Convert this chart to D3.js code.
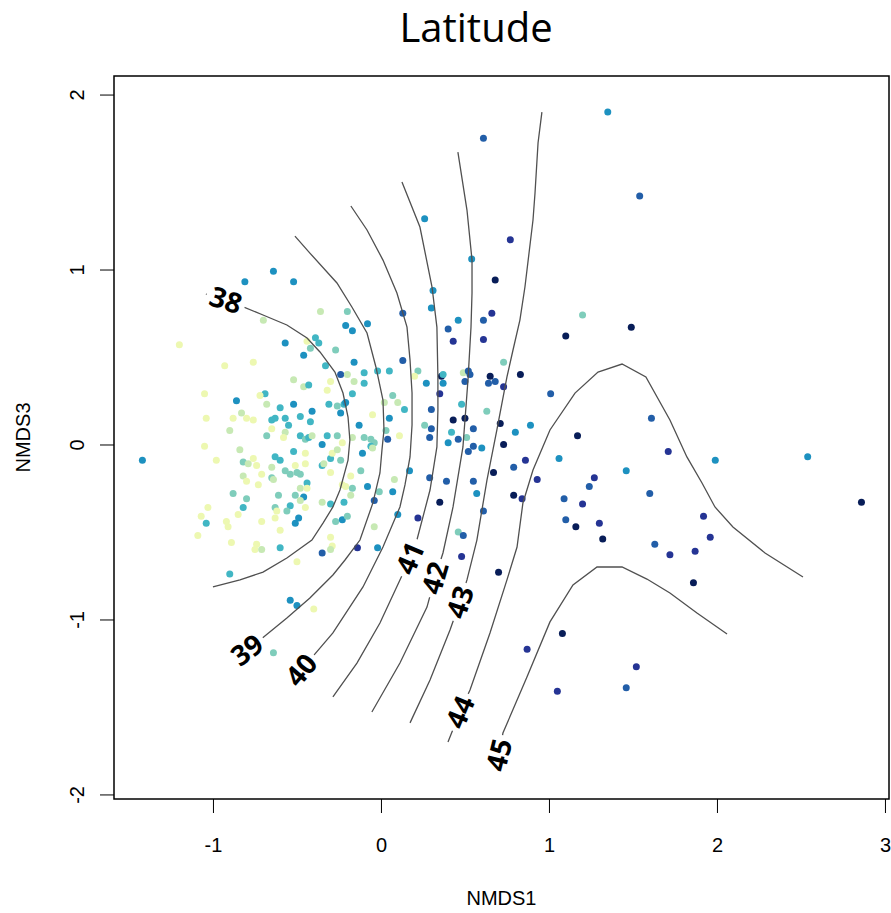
<!DOCTYPE html>
<html>
<head>
<meta charset="utf-8">
<script src="https://cdn.jsdelivr.net/npm/d3@7"></script>
<style>
  body { margin: 0; background: #fff; }
  svg text { font-family: "Liberation Sans", Arial, sans-serif; fill: #000; }
</style>
</head>
<body>
<svg id="chart" width="891" height="913"></svg>
<script>
// axis ticks
const xTicks = [-1, 0, 1, 2, 3];
const yTicks = [-2, -1, 0, 1, 2];

// site scores: [NMDS1, NMDS3, latitude]
const sites = [
  [1.35,1.90,42],[1.54,1.42,43],[0.61,1.75,43],[0.26,1.29,42],[0.54,1.06,42],[0.77,1.17,44],[0.68,0.94,45],
  [-0.64,0.99,42],[-0.81,0.93,42],[-0.52,0.93,42],[0.31,0.88,42],[0.30,0.78,42],
  [-0.70,0.71,39],[-0.36,0.76,39],[-0.20,0.76,40],[0.13,0.75,43],[0.46,0.71,42],[0.40,0.66,43],[0.43,0.59,44],[0.61,0.60,44],[0.61,0.71,43],[0.66,0.75,44],
  [1.20,0.74,40],[1.10,0.62,45],[1.49,0.67,45],
  [-1.20,0.57,38],[-0.57,0.58,42],[-0.44,0.59,38],[-0.39,0.61,41],[-0.37,0.58,41],[-0.42,0.55,40],[-0.21,0.68,42],[-0.17,0.65,42],[-0.08,0.69,42],[-0.46,0.51,42],[-0.27,0.54,40],
  [-0.93,0.45,38],[-0.76,0.47,38],[-0.33,0.45,41],[-0.24,0.40,43],[-0.20,0.40,39],[-0.16,0.47,42],[-0.10,0.41,41],[-0.02,0.42,41],[0.05,0.42,41],[0.13,0.48,43],[0.22,0.42,40],
  [-0.52,0.37,39],[-0.46,0.33,39],[-0.43,0.34,41],[-0.30,0.36,38],[-0.32,0.31,38],[-0.16,0.36,39],[-0.10,0.35,41],[0.20,0.39,38],[0.27,0.35,42],[0.36,0.39,45],[0.37,0.40,41],[0.37,0.35,42],[0.35,0.29,44],
  [0.49,0.41,39],[0.52,0.42,43],[0.53,0.40,43],[0.50,0.36,43],[0.73,0.47,40],[0.65,0.39,45],[0.68,0.36,43],[0.64,0.35,43],[0.73,0.33,44],[0.83,0.40,45],
  [-1.05,0.29,38],[-0.69,0.29,41],[-0.72,0.28,38],[-0.17,0.29,41],[-0.86,0.25,42],[-0.68,0.23,39],[-0.60,0.21,41],[-0.52,0.23,42],[-0.41,0.19,42],[-0.31,0.23,41],[-0.26,0.22,40],[-0.24,0.18,42],[-0.22,0.23,41],[-0.21,0.24,42],
  [0.02,0.24,39],[0.07,0.28,40],[0.10,0.24,39],[0.14,0.20,41],[0.30,0.20,43],[0.43,0.14,45],[0.50,0.15,45],[0.55,0.09,43],[0.48,0.23,41],[0.63,0.19,40],
  [-1.04,0.15,38],[-0.88,0.15,38],[-0.83,0.18,39],[-0.80,0.15,38],[-0.76,0.14,38],[-0.65,0.14,41],[-0.63,0.15,41],[-0.57,0.15,41],[-0.55,0.11,41],[-0.48,0.16,41],[-0.42,0.13,41],[-0.05,0.17,38],[-0.13,0.11,42],[0.05,0.15,42],
  [-0.90,0.08,39],[-0.65,0.09,38],[-0.57,0.07,39],[-0.58,0.04,38],[-0.68,0.05,40],[-0.48,0.05,41],[-0.45,0.03,40],[-0.43,0.04,41],[-0.41,0.05,39],[-0.32,0.05,41],[-0.26,0.05,40],[-0.23,0.01,38],[-0.17,0.04,39],[-0.10,0.04,40],[-0.06,0.03,40],[-0.04,0.01,40],[-0.06,-0.01,41],[-0.05,-0.02,39],
  [0.03,0.08,40],[0.04,0.03,43],[0.11,0.05,38],[0.26,0.11,40],[0.30,0.09,43],[0.29,0.04,43],[0.42,0.07,41],[0.40,0.01,42],[0.46,0.03,43],[0.51,0.04,40],[0.55,-0.01,43],[0.52,-0.04,43],[0.60,-0.02,42],
  [0.71,0.12,45],[0.80,0.07,42],[0.89,0.11,42],[0.73,0.00,45],[1.17,0.05,45],[1.01,0.29,43],[1.61,0.15,43],
  [0.67,-0.16,45],[0.79,-0.13,43],[0.86,-0.09,44],[0.93,-0.20,44],[0.79,-0.29,45],[0.84,-0.31,44],[0.61,-0.38,43],[1.06,-0.08,42],[1.46,-0.15,42],[1.71,-0.04,44],[1.99,-0.09,42],[2.54,-0.07,42],[2.86,-0.33,45],
  [1.27,-0.19,44],[1.24,-0.24,43],[1.09,-0.31,43],[1.20,-0.34,44],[1.60,-0.28,43],[1.10,-0.43,43],[1.16,-0.47,45],[1.30,-0.45,44],[1.32,-0.54,45],[1.63,-0.57,43],[1.72,-0.63,44],[1.87,-0.61,44],[1.92,-0.41,44],[1.96,-0.53,44],[1.86,-0.79,45],
  [0.70,-0.73,45],[1.08,-1.08,45],[0.87,-1.17,44],[1.52,-1.27,44],[1.46,-1.39,43],[1.05,-1.41,44],
  [0.17,-0.15,42],[0.29,-0.19,43],[0.39,-0.21,43],[0.35,-0.33,45],[0.55,-0.21,43],[0.57,-0.28,42],[0.22,-0.42,44],[0.08,-0.20,39],[0.07,-0.27,42],[-0.01,-0.27,40],[-0.04,-0.32,43],[-0.08,-0.24,42],
  [0.10,-0.40,42],[-0.04,-0.47,39],[-0.02,-0.59,42],[-0.14,-0.59,44],[0.46,-0.50,40],[0.49,-0.52,43],[0.48,-0.64,44],[-0.11,-0.05,42],[-0.12,-0.15,40],
  [-1.42,-0.09,42],[-1.05,-0.01,38],[-0.98,-0.09,38],[-0.84,-0.03,39],[-0.82,-0.10,40],[-0.79,-0.11,39],[-0.76,-0.08,38],[-0.74,-0.12,38],[-0.82,-0.18,39],[-0.80,-0.21,38],[-0.71,-0.17,38],[-0.73,-0.23,38],
  [-0.65,-0.13,39],[-0.65,-0.19,40],[-0.64,-0.20,39],[-0.63,-0.07,41],[-0.60,-0.09,41],[-0.57,-0.15,40],[-0.52,-0.04,41],[-0.45,-0.05,38],[-0.45,-0.11,38],[-0.51,-0.12,38],[-0.54,-0.17,40],[-0.50,-0.16,40],
  [-0.48,-0.17,40],[-0.44,-0.22,41],[-0.48,-0.25,39],[-0.44,-0.25,38],[-0.35,-0.12,41],[-0.34,-0.11,39],[-0.30,-0.16,38],[-0.30,-0.08,41],[-0.29,-0.05,38],[-0.24,-0.09,40],[-0.26,-0.03,39],[-0.35,0.00,42],
  [-0.18,-0.18,38],[-0.23,-0.23,38],[-0.21,-0.24,38],[-0.17,-0.25,40],[-0.18,-0.29,39],[-0.22,-0.33,41],[-0.27,-0.44,40],[-0.23,-0.43,42],[-0.20,-0.41,40],[-0.30,-0.34,41],[-0.35,-0.33,39],[-0.46,-0.30,42],
  [-0.54,-0.35,41],[-0.48,-0.32,39],[-0.45,-0.36,38],[-0.51,-0.29,40],[-0.56,-0.38,40],[-0.60,-0.49,38],[-0.61,-0.29,40],[-0.63,-0.36,40],[-0.62,-0.38,38],[-0.63,-0.42,38],[-0.80,-0.31,40],[-0.82,-0.36,41],
  [-0.88,-0.28,40],[-1.03,-0.36,38],[-1.07,-0.41,38],[-1.04,-0.45,41],[-1.09,-0.52,38],[-0.92,-0.44,38],[-0.91,-0.47,38],[-0.85,-0.40,38],[-0.89,-0.56,38],[-0.71,-0.44,38],[-0.74,-0.57,38],[-0.75,-0.60,38],
  [-0.71,-0.60,39],[-0.60,-0.59,41],[-0.51,-0.45,42],[-0.49,-0.42,42],[-0.30,-0.53,38],[-0.29,-0.58,38],[-0.30,-0.60,39],[-0.35,-0.62,43],[-0.50,-0.67,38],[-0.90,-0.74,41],[-0.54,-0.89,42],[-0.50,-0.92,42],
  [-0.40,-0.94,38],[-0.64,-1.19,40]
];

// fitted latitude surface: contour levels, their polylines and the vertex holding each label
const levels = [38, 39, 40, 41, 42, 43, 44, 45];
const contourLines = [
  [[-1.042,0.860],[-0.923,0.826],[-0.845,0.797],[-0.702,0.740],[-0.560,0.683],[-0.440,0.609],[-0.363,0.529],[-0.274,0.414],[-0.226,0.294],[-0.196,0.157],[-0.185,0.026],[-0.196,-0.089],[-0.244,-0.260],[-0.286,-0.357],[-0.345,-0.449],[-0.411,-0.546],[-0.560,-0.649],[-0.702,-0.729],[-0.839,-0.774],[-1.000,-0.814]],
  [[-0.512,1.191],[-0.423,1.094],[-0.262,0.923],[-0.173,0.786],[-0.083,0.637],[-0.030,0.443],[0.012,0.254],[0.018,0.083],[0.006,-0.031],[-0.006,-0.163],[-0.048,-0.334],[-0.125,-0.546],[-0.214,-0.660],[-0.286,-0.746],[-0.423,-0.877],[-0.560,-0.991],[-0.720,-1.117],[-0.798,-1.174],[-0.863,-1.220]],
  [[-0.179,1.363],[-0.083,1.226],[0.012,1.054],[0.095,0.866],[0.155,0.671],[0.173,0.483],[0.185,0.294],[0.185,0.111],[0.173,-0.071],[0.143,-0.231],[0.113,-0.357],[0.012,-0.586],[-0.107,-0.814],[-0.286,-1.077],[-0.423,-1.231],[-0.476,-1.289],[-0.524,-1.346]],
  [[0.125,1.500],[0.232,1.243],[0.304,0.900],[0.333,0.671],[0.339,0.386],[0.339,0.197],[0.333,-0.014],[0.292,-0.260],[0.214,-0.546],[0.173,-0.649],[0.113,-0.774],[-0.006,-1.020],[-0.143,-1.249],[-0.286,-1.443]],
  [[0.458,1.671],[0.512,1.340],[0.542,1.054],[0.542,0.866],[0.536,0.671],[0.518,0.369],[0.488,-0.014],[0.429,-0.357],[0.369,-0.620],[0.321,-0.763],[0.274,-0.929],[0.113,-1.249],[-0.054,-1.529]],
  [[0.958,1.900],[0.935,1.723],[0.917,1.437],[0.905,1.283],[0.857,0.900],[0.827,0.711],[0.786,0.540],[0.750,0.386],[0.690,0.083],[0.631,-0.203],[0.571,-0.546],[0.512,-0.774],[0.470,-0.900],[0.411,-1.060],[0.292,-1.346],[0.173,-1.591]],
  [[2.512,-0.757],[2.286,-0.620],[2.095,-0.471],[1.988,-0.357],[1.911,-0.220],[1.821,-0.071],[1.720,0.140],[1.577,0.386],[1.435,0.460],[1.292,0.414],[1.155,0.294],[1.006,0.083],[0.905,-0.146],[0.845,-0.334],[0.810,-0.586],[0.750,-0.774],[0.649,-1.077],[0.530,-1.403],[0.470,-1.529],[0.399,-1.700]],
  [[2.060,-1.083],[1.881,-0.963],[1.720,-0.849],[1.583,-0.769],[1.435,-0.700],[1.286,-0.700],[1.143,-0.803],[1.006,-1.014],[0.869,-1.329],[0.726,-1.649],[0.702,-1.774],[0.679,-1.831]]
];
const labelVertex = [1, 17, 15, 9, 9, 12, 18, 10];

const palette = ["#edf8b1", "#c7e9b4", "#7fcdbb", "#41b6c4", "#1d91c0", "#225ea8", "#253494", "#081d58"];

const svg = d3.select("#chart");
const box = { left: 114, right: 889, top: 76, bottom: 799 };

const x = d3.scaleLinear().domain([-1.589, 3.024]).range([box.left, box.right]);
const y = d3.scaleLinear().domain([-2.026, 2.106]).range([box.bottom, box.top]);
const color = d3.scaleQuantize().domain([37.5, 45.5]).range(palette);

// title
svg.append("text")
    .attr("x", 476).attr("y", 42)
    .attr("text-anchor", "middle")
    .style("font-family", "'Open Sans', sans-serif")
    .style("font-size", "40px")
    .text("Latitude");

// axes
svg.append("g")
    .attr("transform", `translate(0,${box.bottom})`)
    .call(d3.axisBottom(x).tickValues(xTicks).tickSize(14).tickFormat(d => String(d)))
    .call(g => g.select(".domain").remove())
    .call(g => g.selectAll("line").attr("stroke", "#000"))
    .call(g => g.selectAll("text").attr("y", 39).attr("dy", "0.71em").style("font-size", "20px").attr("fill", "#000"));

svg.append("g")
    .attr("transform", `translate(${box.left},0)`)
    .call(d3.axisLeft(y).tickValues(yTicks).tickSize(14).tickFormat(d => String(d)))
    .call(g => g.select(".domain").remove())
    .call(g => g.selectAll("line").attr("stroke", "#000"))
    .call(g => g.selectAll("text")
        .attr("x", null).attr("dy", "0.35em")
        .attr("text-anchor", "middle")
        .attr("transform", "translate(-37,0) rotate(-90)")
        .style("font-size", "20px").attr("fill", "#000"));

svg.append("text")
    .attr("x", (box.left + box.right) / 2).attr("y", 905)
    .attr("text-anchor", "middle")
    .style("font-size", "20px")
    .text("NMDS1");

svg.append("text")
    .attr("transform", `translate(23,${(box.top + box.bottom) / 2}) rotate(-90)`)
    .attr("dy", "0.35em")
    .attr("text-anchor", "middle")
    .style("font-size", "20px")
    .text("NMDS3");

// points
svg.append("g")
    .selectAll("circle")
    .data(sites)
    .join("circle")
    .attr("cx", d => x(d[0]))
    .attr("cy", d => y(d[1]))
    .attr("r", 3.5)
    .attr("fill", d => color(d[2]));

// contour group sits under the labels
const contourG = svg.append("g").attr("mask", "url(#labelGaps)");

// contour labels, each cuts a gap in its line
const labels = levels.map((lev, i) => {
    const pts = contourLines[i].map(p => [x(p[0]), y(p[1])]);
    const k = labelVertex[i];
    const a = pts[Math.max(0, k - 1)], b = pts[Math.min(pts.length - 1, k + 1)];
    let ang = Math.atan2(b[1] - a[1], b[0] - a[0]) * 180 / Math.PI;
    if (ang > 90) ang -= 180;
    if (ang < -90) ang += 180;
    return { lev, cx: pts[k][0], cy: pts[k][1], ang };
});

const mask = svg.append("defs").append("mask").attr("id", "labelGaps")
    .attr("maskUnits", "userSpaceOnUse")
    .attr("x", 0).attr("y", 0).attr("width", 891).attr("height", 913);
mask.append("rect").attr("width", 891).attr("height", 913).attr("fill", "#fff");

const labelText = svg.append("g")
    .selectAll("text")
    .data(labels)
    .join("text")
    .attr("transform", d => `translate(${d.cx},${d.cy}) rotate(${d.ang})`)
    .attr("text-anchor", "middle")
    .attr("dy", "0.36em")
    .style("font-family", "'Open Sans', sans-serif")
    .style("font-weight", 700)
    .style("font-size", "28px")
    .text(d => d.lev);

labelText.each(function(d) {
    const w = this.getComputedTextLength() + 8;
    mask.append("rect")
        .attr("x", -w / 2).attr("y", -12)
        .attr("width", w).attr("height", 24)
        .attr("transform", `translate(${d.cx},${d.cy}) rotate(${d.ang})`)
        .attr("fill", "#000");
});

const line = d3.line().x(d => x(d[0])).y(d => y(d[1]));

contourG.selectAll("path")
    .data(contourLines)
    .join("path")
    .attr("d", line)
    .attr("fill", "none")
    .attr("stroke", "#505050")
    .attr("stroke-width", 1.3);

// frame
svg.append("rect")
    .attr("x", box.left).attr("y", box.top)
    .attr("width", box.right - box.left).attr("height", box.bottom - box.top)
    .attr("fill", "none")
    .attr("stroke", "#000")
    .attr("stroke-width", 1.5);
</script>
</body>
</html>
